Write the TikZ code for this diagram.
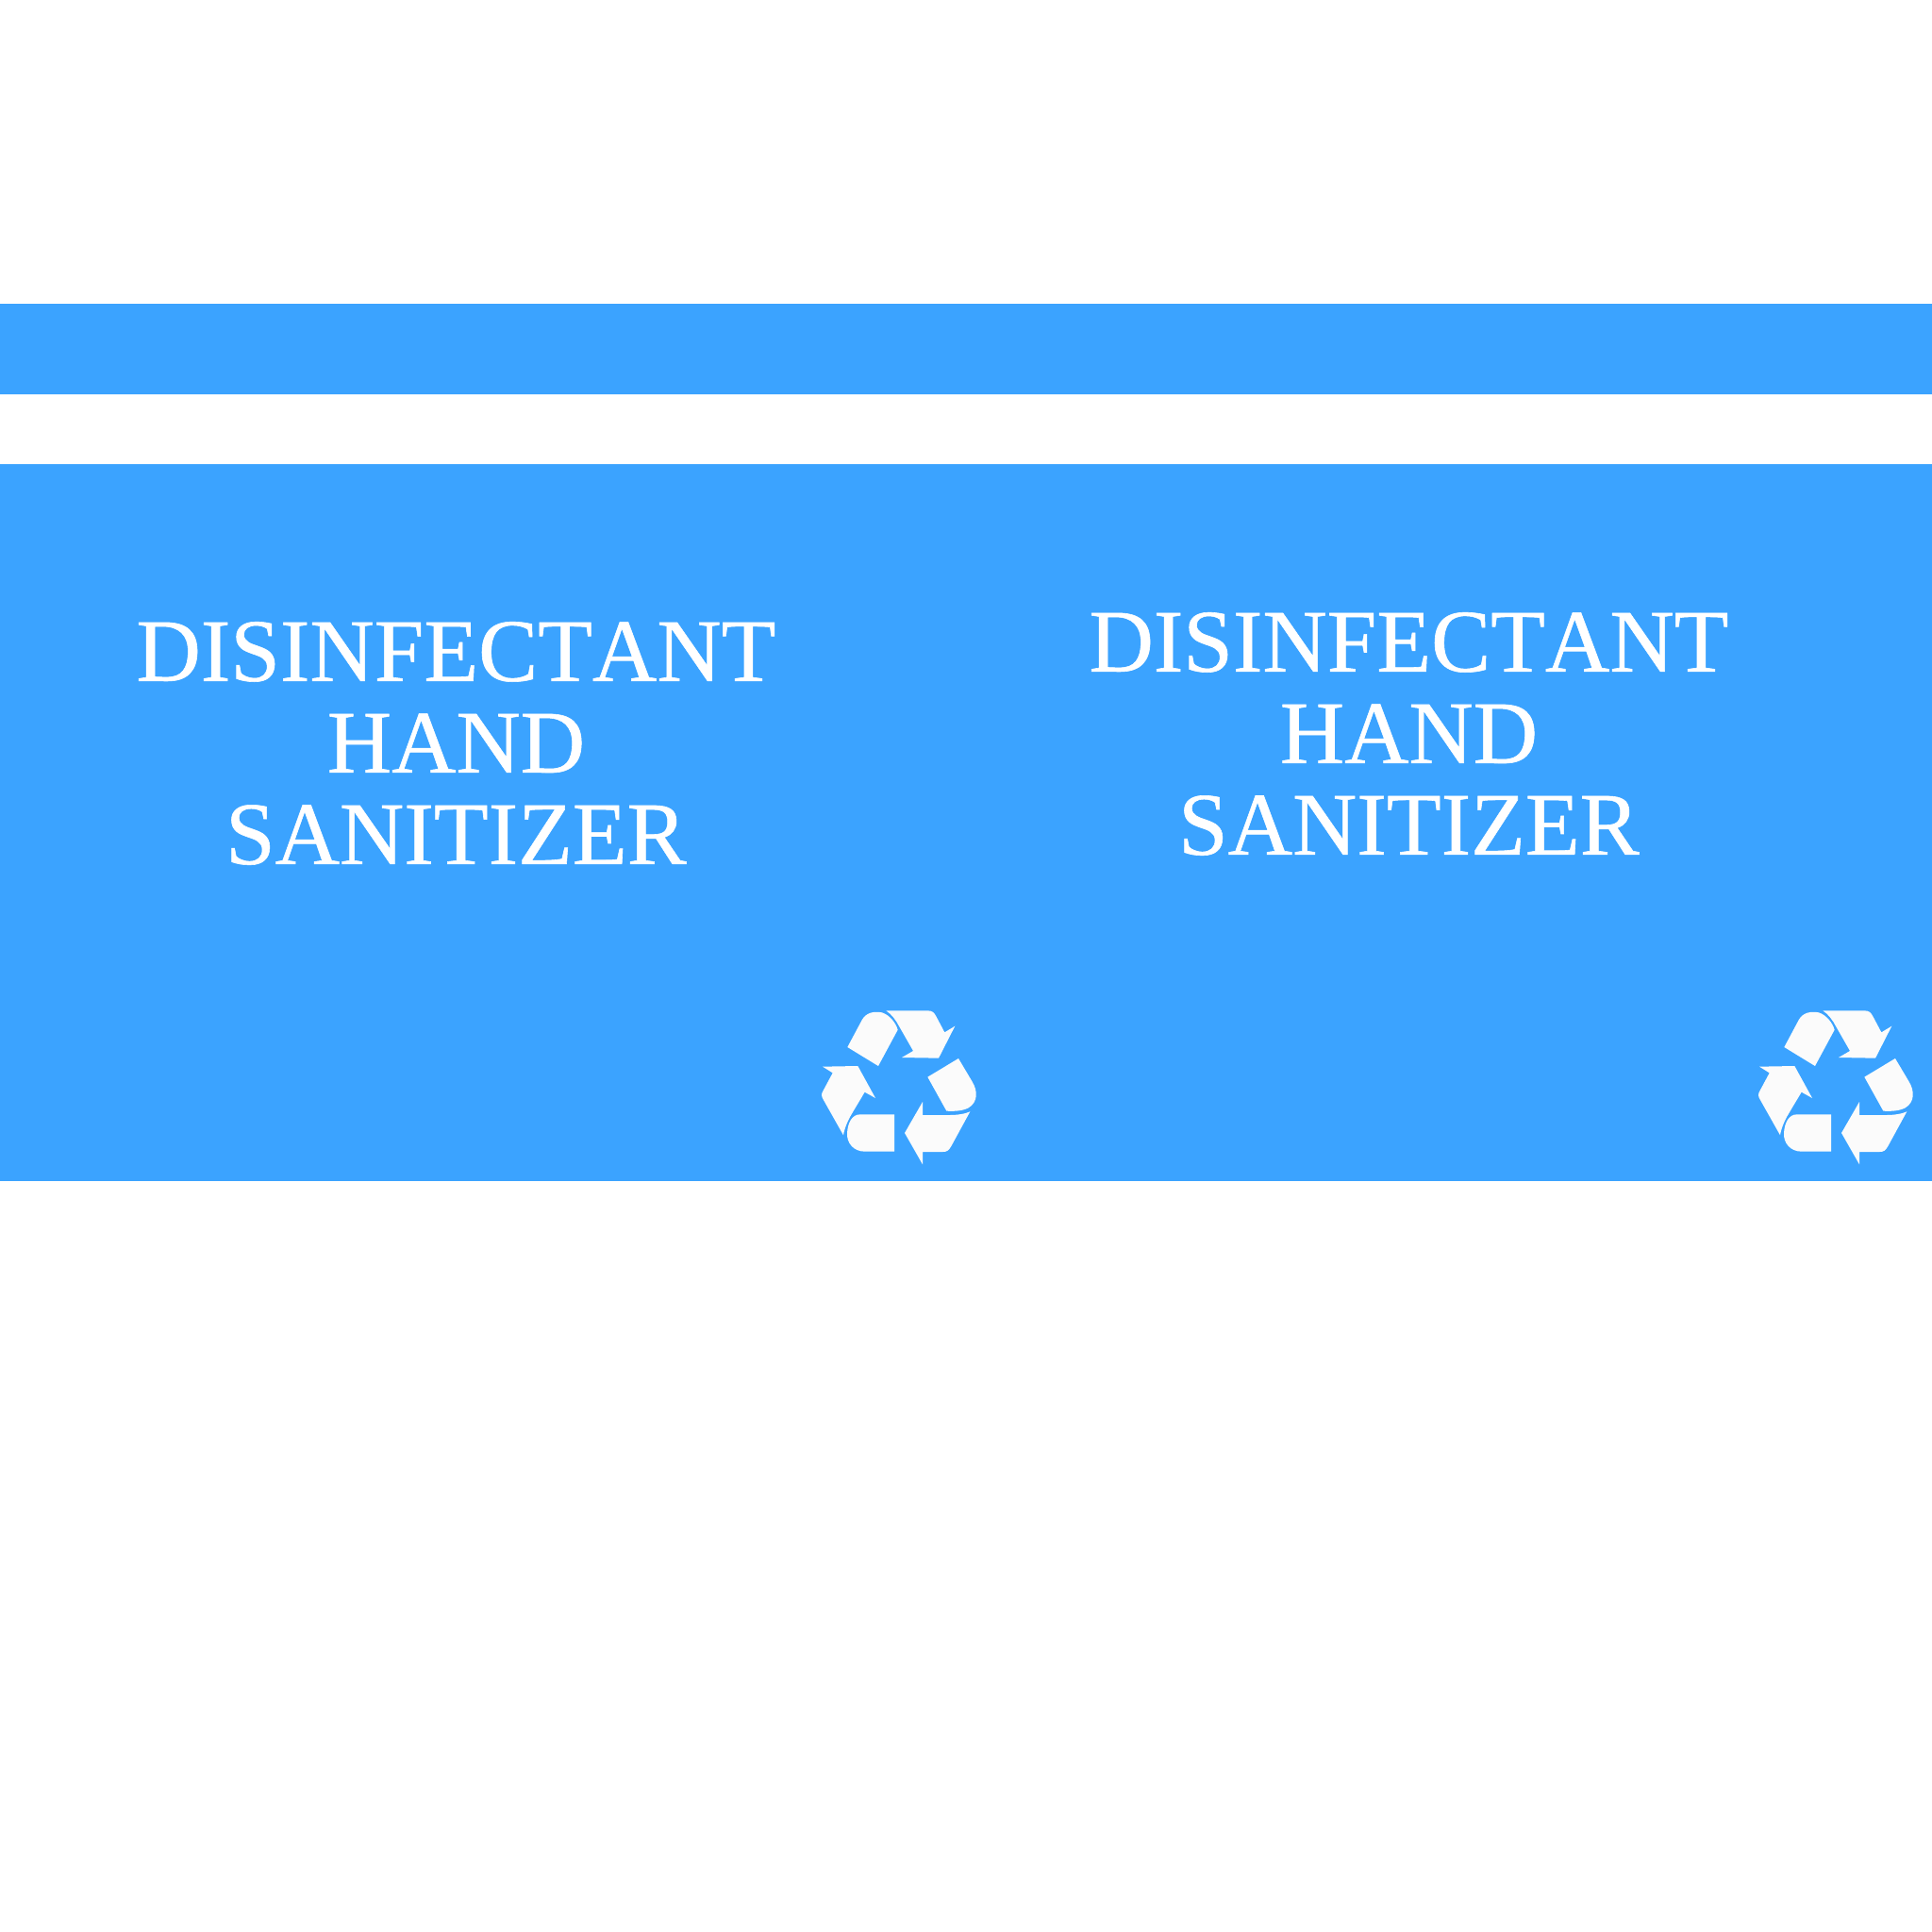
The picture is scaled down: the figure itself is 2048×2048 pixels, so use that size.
\documentclass[tikz,border=0pt]{standalone}
\usepackage{fontspec}
\newfontfamily\labelfont[FakeBold=0.6, Kerning=Off]{Liberation Serif}
\definecolor{bandblue}{HTML}{3BA3FF}
\definecolor{markwhite}{HTML}{FBFBFB}
\tikzset{
  band/.style={fill=bandblue, draw=none},
  labeltext/.style={text=white, align=center, inner sep=0pt, font=\labelfont\fontsize{26.9pt}{27.6pt}\selectfont},
  recyclemark/.pic={
    \fill[markwhite] (175,210) -- (222,122) .. controls (235,100) and (260,95) .. (285,100)
      .. controls (310,108) and (330,135) .. (335,155) -- (273,270) -- cycle;
    \fill[markwhite] (298,94) -- (430,94) .. controls (445,94) and (450,100) .. (456,110)
      -- (484,163) -- (517,143) -- (465,245) -- (348,243) -- (384,222) -- (340,145)
      .. controls (330,125) and (315,105) .. (298,94) -- cycle;
    \fill[markwhite] (430,305) -- (528,246) -- (572,320) .. controls (590,350) and (590,385) .. (560,403)
      .. controls (540,414) and (510,414) .. (490,413) -- cycle;
    \fill[markwhite] (565,415) -- (505,525) .. controls (497,540) and (490,543) .. (478,543)
      -- (414,543) -- (414,583) -- (357,483) -- (414,384) -- (414,426) -- (500,426)
      .. controls (525,426) and (550,422) .. (565,415) -- cycle;
    \fill[markwhite] (324,424) -- (324,542) -- (230,542) .. controls (195,542) and (172,515) .. (174,483)
      .. controls (176,450) and (190,424) .. (215,424) -- cycle;
    \fill[markwhite] (96,272) -- (208,270) -- (264,372) -- (230,353) -- (190,420)
      .. controls (175,445) and (165,470) .. (162,490) -- (100,380)
      .. controls (90,365) and (92,358) .. (98,348) -- (128,292) -- cycle;
  }
}
\begin{document}
\begin{tikzpicture}[x=0.01cm, y=-0.01cm]
  \useasboundingbox (0,0) rectangle (2048,2048);

  \fill[band] (0,322) rectangle (2048,418);
  \fill[band] (0,492) rectangle (2048,1252);

  \node[labeltext] (labelA) at (483.5,788) {DISINFECTANT\\HAND\\SANITIZER};
  \node[labeltext] (labelB) at (1493.5,778) {DISINFECTANT\\HAND\\SANITIZER};

  \pic[scale=1/3] at (840,1040) {recyclemark};
  \pic[scale=1/3] at (1833,1040) {recyclemark};
\end{tikzpicture}
\end{document}
